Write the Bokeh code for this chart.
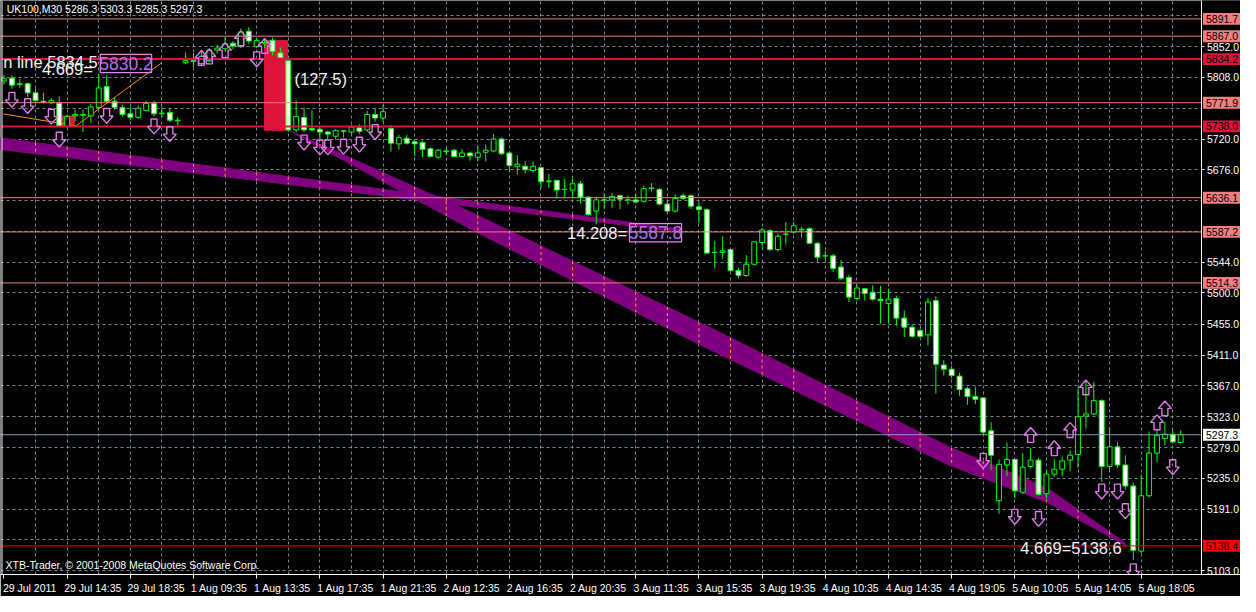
import numpy as np
from bokeh.plotting import figure
from bokeh.models import Range1d, FixedTicker, ColumnDataSource, LinearAxis, Grid
from bokeh.embed import file_html
from bokeh.resources import INLINE
from bokeh.core.properties import value

# ---------------- data ----------------
opens = [5803, 5807, 5798, 5799, 5786, 5774, 5772, 5771, 5738, 5753,
         5754, 5753, 5765, 5795, 5774, 5765, 5756, 5751, 5761, 5771,
         5756, 5758, 5746, 5829, 5832, 5828, 5832, 5847, 5849, 5857,
         5852, 5874, 5852, 5856, 5861, 5843, 5832, 5733, 5751, 5735,
         5734, 5730, 5724, 5731, 5730, 5736, 5733, 5755, 5750, 5735,
         5713, 5721, 5716, 5715, 5706, 5694, 5703, 5704, 5695, 5700,
         5694, 5701, 5703, 5720, 5700, 5681, 5681, 5675, 5679, 5659,
         5661, 5648, 5647, 5656, 5637, 5617, 5633, 5633, 5639, 5633,
         5633, 5631, 5649, 5648, 5627, 5617, 5639, 5639, 5623, 5619,
         5558, 5558, 5562, 5532, 5525, 5541, 5572, 5589, 5562, 5584,
         5587, 5590, 5592, 5571, 5553, 5553, 5537, 5522, 5492, 5506,
         5501, 5491, 5485, 5492, 5464, 5451, 5446, 5440, 5489, 5397,
         5391, 5381, 5363, 5352, 5350, 5303, 5203, 5254, 5262, 5215,
         5252, 5261, 5213, 5241, 5248, 5261, 5269, 5324, 5327, 5346,
         5252, 5280, 5254, 5224, 5131, 5210, 5271, 5292, 5298, 5286.3]
highs = [5812, 5811, 5806, 5801, 5792, 5786, 5778, 5781, 5755, 5762,
         5762, 5770, 5813, 5811, 5780, 5769, 5766, 5768, 5775, 5775,
         5766, 5764, 5751, 5844, 5843, 5845, 5849, 5855, 5866, 5860,
         5878, 5880, 5864, 5862, 5865, 5851, 5835, 5775, 5765, 5761,
         5738, 5732, 5734, 5733, 5740, 5741, 5760, 5764, 5768, 5740,
         5726, 5726, 5718, 5718, 5708, 5706, 5707, 5706, 5706, 5702,
         5710, 5712, 5727, 5722, 5702, 5697, 5688, 5688, 5680, 5670,
         5661, 5663, 5663, 5660, 5638, 5638, 5642, 5643, 5639, 5639,
         5642, 5653, 5657, 5650, 5631, 5641, 5642, 5641, 5630, 5621,
         5574, 5581, 5563, 5536, 5554, 5573, 5593, 5591, 5585, 5601,
         5602, 5594, 5594, 5573, 5560, 5556, 5547, 5526, 5512, 5506,
         5511, 5510, 5506, 5496, 5475, 5455, 5449, 5493, 5495, 5404,
         5396, 5386, 5366, 5366, 5350, 5315, 5262, 5286, 5263, 5271,
         5278, 5264, 5247, 5262, 5266, 5275, 5365, 5373, 5373, 5348,
         5308, 5287, 5268, 5229, 5240, 5302, 5306, 5316, 5304, 5303.3]
lows = [5798, 5792, 5793, 5780, 5771, 5771, 5770, 5737, 5736, 5745,
        5730, 5744, 5763, 5772, 5762, 5752, 5747, 5749, 5759, 5752,
        5752, 5744, 5739, 5827, 5822, 5824, 5830, 5842, 5846, 5848,
        5850, 5856, 5850, 5850, 5840, 5834, 5730, 5730, 5730, 5731,
        5719, 5719, 5719, 5722, 5726, 5727, 5730, 5745, 5744, 5702,
        5705, 5712, 5696, 5694, 5694, 5692, 5697, 5694, 5694, 5689,
        5688, 5688, 5701, 5697, 5675, 5669, 5671, 5672, 5650, 5650,
        5635, 5636, 5636, 5628, 5610, 5598, 5620, 5621, 5620, 5626,
        5628, 5629, 5645, 5625, 5614, 5615, 5633, 5620, 5600, 5555,
        5535, 5549, 5530, 5521, 5523, 5539, 5565, 5560, 5559, 5569,
        5584, 5579, 5570, 5544, 5548, 5530, 5518, 5487, 5489, 5489,
        5489, 5456, 5456, 5453, 5437, 5436, 5436, 5425, 5356, 5382,
        5378, 5353, 5340, 5341, 5297, 5247, 5184, 5238, 5206, 5213,
        5249, 5210, 5206, 5237, 5238, 5245, 5250, 5306, 5325, 5230,
        5246, 5250, 5219, 5118, 5128, 5208, 5258, 5282, 5285, 5285.3]
closes = [5806, 5797, 5799, 5786, 5775, 5773, 5775, 5738, 5752, 5755,
          5755, 5766, 5793, 5774, 5765, 5755, 5751, 5764, 5771, 5756,
          5757, 5747, 5747, 5832, 5831, 5838, 5847, 5850, 5856, 5853,
          5873, 5860, 5861, 5858, 5845, 5836, 5733, 5752, 5733, 5733,
          5730, 5727, 5732, 5732, 5737, 5731, 5755, 5750, 5759, 5714,
          5722, 5714, 5713, 5705, 5695, 5704, 5702, 5695, 5700, 5696,
          5700, 5704, 5720, 5699, 5682, 5684, 5676, 5681, 5659, 5660,
          5647, 5648, 5656, 5637, 5612, 5633, 5633, 5638, 5634, 5633,
          5630, 5649, 5650, 5627, 5617, 5635, 5635, 5624, 5619, 5557,
          5558, 5560, 5532, 5525, 5541, 5573, 5590, 5562, 5581, 5584,
          5596, 5591, 5571, 5551, 5553, 5535, 5521, 5494, 5507, 5499,
          5491, 5489, 5491, 5464, 5451, 5438, 5438, 5487, 5398, 5391,
          5382, 5362, 5352, 5348, 5301, 5268, 5255, 5262, 5217, 5251,
          5261, 5212, 5241, 5248, 5260, 5268, 5323, 5327, 5346, 5252,
          5280, 5254, 5224, 5132, 5210, 5271, 5296, 5298, 5287, 5297.3]

time_tick_idx = list(range(0, 145, 8))
time_tick_labels = ["29 Jul 2011", "29 Jul 14:35", "29 Jul 18:35", "1 Aug 09:35",
                    "1 Aug 13:35", "1 Aug 17:35", "1 Aug 21:35", "2 Aug 12:35",
                    "2 Aug 16:35", "2 Aug 20:35", "3 Aug 11:35", "3 Aug 15:35",
                    "3 Aug 19:35", "4 Aug 10:35", "4 Aug 14:35", "4 Aug 19:05",
                    "5 Aug 10:05", "5 Aug 14:05", "5 Aug 18:05"]
grid_idx = list(range(4, 152, 4))
price_ticks = [5103.0, 5147.0, 5191.0, 5235.0, 5279.0, 5323.0, 5367.0, 5411.0,
               5455.0, 5500.0, 5544.0, 5588.0, 5632.0, 5676.0, 5720.0, 5764.0,
               5808.0, 5852.0, 5896.0]
price_labels_shown = [5103.0, 5191.0, 5235.0, 5279.0, 5323.0, 5367.0, 5411.0,
                      5455.0, 5500.0, 5544.0, 5676.0, 5720.0, 5808.0, 5852.0]

level_prices = [5891.7, 5867.0, 5834.2, 5771.9, 5738.0, 5636.1, 5587.2, 5514.3, 5297.3, 5138.4]
level_kinds = ["salmon", "salmon", "crimson", "salmon", "crimson", "salmon", "salmon",
               "salmon", "bid", "red"]

down_arrow_idx = [1, 3, 6, 7, 13, 19, 21, 32, 38, 40, 41, 43, 45, 47,
                  124, 128, 131, 139, 141, 142, 143, 148]
down_arrow_price = [5776, 5767, 5752, 5719, 5753, 5738, 5727, 5834, 5715, 5708, 5708,
                    5709, 5712, 5730, 5260, 5180, 5177, 5216, 5216, 5188, 5102, 5251]
up_arrow_idx = [25, 26, 28, 30, 33, 130, 133, 135, 137, 146, 147]
up_arrow_price = [5836, 5838, 5847, 5864, 5853, 5297, 5278, 5304, 5365, 5315, 5335]

band1_idx = [-0.44, 85.8, 85.8, -0.44]
band1_price = [5721.5, 5591.0, 5587.0, 5705.0]
band2_idx = [36.1, 59.6, 89.6, 119.6, 132.1, 141.8, 142.1, 132.1, 119.6, 89.6, 59.6, 37.1]
band2_price = [5732.5, 5613.0, 5449.4, 5280.3, 5221.2, 5144.3, 5138.6, 5200.6, 5254.2,
               5417.8, 5588.2, 5725.6]

rect_left = [33.0, 7.3]
rect_right = [35.9, 8.9]
rect_top = [5861.0, 5753.0]
rect_bottom = [5732.5, 5738.0]

trend_x0 = [-0.06, 9.19]
trend_y0 = [5755.8, 5739.3]
trend_x1 = [9.56, 19.94]
trend_y1 = [5738.0, 5828.7]

box_left = [12.2, 79.2]
box_right = [18.7, 85.8]
box_top = [5841.0, 5599.0]
box_bottom = [5815.0, 5573.0]
box_text = ["5830.2", "5587.8"]

note_idx = [-0.1, 4.8, 36.8, 78.9, 128.7]
note_price = [5830.7, 5819.7, 5805.3, 5585.4, 5134.7]
note_text = ["n line 5834.5", "4.669=", "(127.5)", "14.208=", "4.669=5138.6"]
note_align = ["left", "left", "left", "right", "left"]

header_text = "UK100,M30  5286.3 5303.3 5285.3 5297.3"
footer_text = "XTB-Trader, \u00a9 2001-2008 MetaQuotes Software Corp."

# ---------------- figure ----------------
W, H = 1240, 596
X0, X1 = -0.44, 151.7            # chart area (bar index)
XR = X1 + (X1 - X0) * 39.0 / 1217.0   # includes the price-scale column
Y0, Y1 = 5097.5, 5918.0
p = figure(width=W, height=H, output_backend="svg", toolbar_location=None,
           x_range=Range1d(X0, XR), y_range=Range1d(Y0, Y1),
           y_axis_location=None,
           background_fill_color="black", border_fill_color="black",
           min_border_left=0, min_border_top=0, min_border_right=0, min_border_bottom=0)
p.outline_line_color = None
for g in p.grid:
    g.visible = False

FONT = "Liberation Sans"
FS = "10.5px"
NOTE_FS = "16.5px"
PX_X = (XR - X0) / W
PX_Y = (Y1 - Y0) / 579.0

# grids
p.add_layout(Grid(dimension=0, ticker=FixedTicker(ticks=grid_idx),
                  grid_line_color="#778899", grid_line_dash="3 3"))
p.add_layout(Grid(dimension=1, ticker=FixedTicker(ticks=price_ticks),
                  grid_line_color="#778899", grid_line_dash="3 3"))

# bottom (time) axis: labels start at the tick, MetaTrader style
LABEL_SHIFT = 3.25
xa = p.xaxis[0]
xa.ticker = FixedTicker(ticks=[t + LABEL_SHIFT for t in time_tick_idx], minor_ticks=time_tick_idx)
xa.major_label_overrides = {t + LABEL_SHIFT: s for t, s in zip(time_tick_idx, time_tick_labels)}
xa.axis_line_color = "white"
xa.major_tick_out = 0
xa.major_tick_in = 0
xa.major_tick_line_color = None
xa.minor_tick_out = 4
xa.minor_tick_in = 0
xa.minor_tick_line_color = "white"
xa.major_label_text_color = "white"
xa.major_label_text_font = FONT
xa.major_label_text_font_size = FS
xa.major_label_standoff = 3

# right price scale drawn at the chart edge
ya = LinearAxis(fixed_location=X1, ticker=FixedTicker(ticks=price_labels_shown))
ya.major_label_overrides = {t: "%.1f" % t for t in price_labels_shown}
ya.axis_line_color = "white"
ya.major_tick_line_color = "white"
ya.minor_tick_line_color = None
ya.major_tick_in = 0
ya.major_tick_out = 3
ya.major_label_text_color = "white"
ya.major_label_text_font = FONT
ya.major_label_text_font_size = FS
ya.major_label_standoff = 2
p.add_layout(ya, "right")

# purple bands
p.patch(band1_idx, band1_price, fill_color="#800080", line_color="#800080")
p.patch(band2_idx, band2_price, fill_color="#800080", line_color="#800080")

# where the vertical grid crosses a band, MetaTrader shows it in orange
b1_top_x, b1_top_y = band1_idx[:2], band1_price[:2]
b1_bot_x, b1_bot_y = band1_idx[:2][::-1][::-1], [band1_price[3], band1_price[2]]
b2_top_x, b2_top_y = band2_idx[:7], band2_price[:7]
b2_bot_x = [band2_idx[0]] + band2_idx[7:][::-1] + [band2_idx[6]]
b2_bot_y = [band2_price[0]] + band2_price[7:][::-1] + [band2_price[6]]
ox, oy0, oy1 = [], [], []
for tx, ty, bx, by in ((b1_top_x, b1_top_y, b1_bot_x, b1_bot_y),
                       (b2_top_x, b2_top_y, b2_bot_x, b2_bot_y)):
    for gx in grid_idx:
        if min(tx) < gx < max(tx):
            ox.append(gx)
            oy0.append(float(np.interp(gx, tx, ty)))
            oy1.append(float(np.interp(gx, bx, by)))
p.segment(x0=ox, y0=oy0, x1=ox, y1=oy1, line_color="#ff9a30", line_dash="3 3", line_width=1)

# red rectangles
p.quad(left=rect_left, right=rect_right, top=rect_top, bottom=rect_bottom,
       fill_color="#dc143c", line_color="#dc143c")

# orange trend segments
p.segment(trend_x0, trend_y0, trend_x1, trend_y1, line_color="#ff8c00", line_width=1)

# candles
idx = np.arange(len(opens))
o = np.array(opens, float); c = np.array(closes, float)
src = ColumnDataSource(dict(
    x=idx, h=highs, l=lows,
    top=np.maximum(o, c), bot=np.minimum(o, c),
    fill=["white" if cc < oo else "black" for oo, cc in zip(o, c)]))
p.segment("x", "h", "x", "l", source=src, line_color="#00ff00", line_width=1)
p.vbar(x="x", width=0.62, top="top", bottom="bot", source=src,
       fill_color="fill", line_color="#00ff00", line_width=1)

# level lines (end at the price scale)
kind_color = {"salmon": "#f08080", "crimson": "#dc143c", "bid": "#8a9aac", "red": "#ff0000"}
kind_width = {"salmon": 1, "crimson": 2, "bid": 1, "red": 1}
for kd in ("salmon", "bid", "red", "crimson"):
    lv = [v for v, k in zip(level_prices, level_kinds) if k == kd]
    p.segment(x0=[X0 - 1] * len(lv), y0=lv, x1=[X1] * len(lv), y1=lv,
              line_color=kind_color[kd], line_width=kind_width[kd])

# left border of the chart window
p.segment(x0=[X0 + 1.5 * PX_X], y0=[Y0], x1=[X0 + 1.5 * PX_X], y1=[Y1],
          line_color="white", line_width=1)

# arrows (hollow) built around (index, price) anchors
dn_shape = [(-3, 7.5), (3, 7.5), (3, 0), (6.5, 0), (0, -7.5), (-6.5, 0), (-3, 0)]
xs, ys = [], []
for i, pr in zip(down_arrow_idx, down_arrow_price):
    xs.append([i + dx * PX_X for dx, dy in dn_shape])
    ys.append([pr + dy * PX_Y for dx, dy in dn_shape])
for i, pr in zip(up_arrow_idx, up_arrow_price):
    xs.append([i + dx * PX_X for dx, dy in dn_shape])
    ys.append([pr - dy * PX_Y for dx, dy in dn_shape])
p.patches(xs, ys, fill_alpha=0, line_color="#e07ae8", line_width=1.4)

# boxes with values
p.quad(left=box_left, right=box_right, top=box_top, bottom=box_bottom,
       fill_alpha=0, line_color="#ee82ee", line_width=1.2)
p.text(x=[(a + b) / 2 for a, b in zip(box_left, box_right)],
       y=[(a + b) / 2 for a, b in zip(box_top, box_bottom)], text=box_text,
       text_color="#b070f0", text_font=value(FONT), text_font_size="17.5px",
       text_align="center", text_baseline="middle")

# notes
for nx, ny, nt, na in zip(note_idx, note_price, note_text, note_align):
    p.text(x=[nx], y=[ny], text=[nt], text_color="#f4f4f4", text_font=value(FONT),
           text_font_size=NOTE_FS, text_align=na, text_baseline="middle")

# header / footer
p.text(x=[0.35], y=[5905.5], text=[header_text], text_color="white",
       text_font=value(FONT), text_font_size=FS, text_baseline="middle")
p.text(x=[0.2], y=[5111.0], text=[footer_text], text_color="white",
       text_font=value(FONT), text_font_size=FS, text_baseline="middle")

# price-scale column: hide grid there, then coloured price tags
p.quad(left=[X1], right=[XR + 1], top=[Y1 + 10], bottom=[Y0 - 10],
       fill_color="black", line_color=None)
tag_bg = {"salmon": "#f08080", "crimson": "#dc143c", "bid": "white", "red": "#ff0000"}
p.quad(left=[X1 + PX_X] * len(level_prices), right=[XR + 1] * len(level_prices),
       top=[v + 6 * PX_Y for v in level_prices], bottom=[v - 6 * PX_Y for v in level_prices],
       fill_color=[tag_bg[k] for k in level_kinds], line_color=None)
p.text(x=[X1 + 4 * PX_X] * len(level_prices), y=level_prices,
       text=["%.1f" % v for v in level_prices], text_color="black",
       text_font=value(FONT), text_font_size=FS, text_baseline="middle")

open("out.html", "w").write(file_html(p, INLINE))
